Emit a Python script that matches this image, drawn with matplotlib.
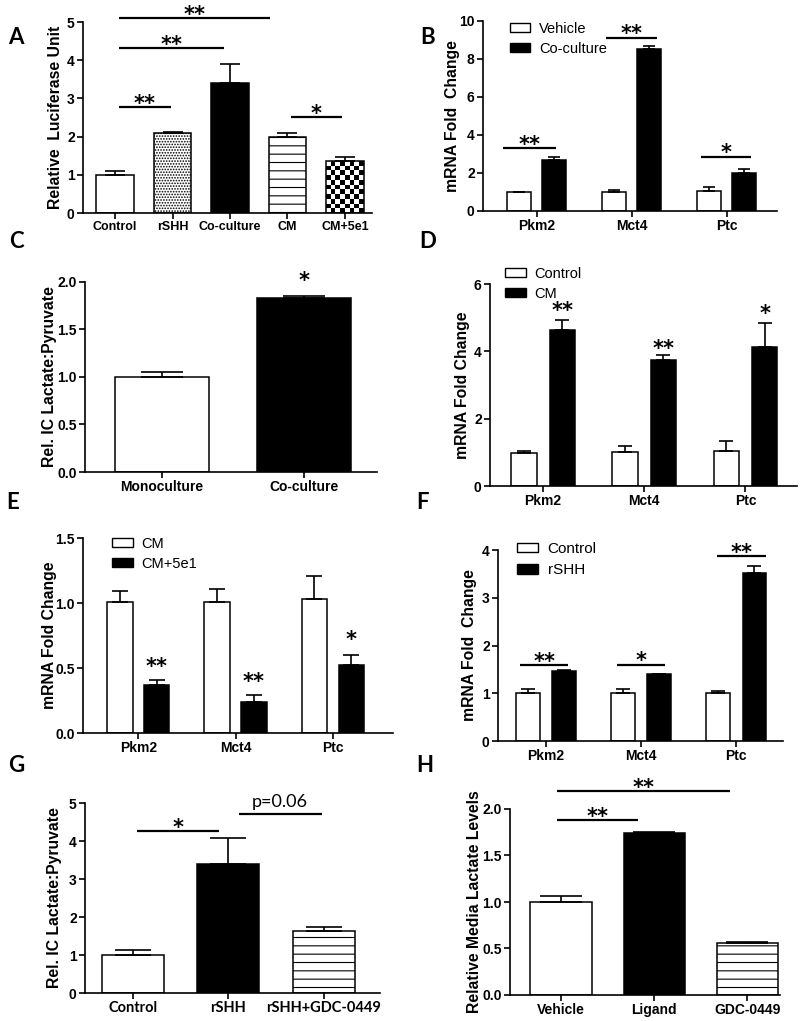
import numpy as np
import matplotlib as mpl
import matplotlib.pyplot as plt
from matplotlib.patches import Patch

mpl.rcParams.update(
    {
        "font.family": ["Liberation Sans", "DejaVu Sans"],
        "font.size": 10,
        "axes.linewidth": 1.2,
        "xtick.major.width": 1.2,
        "ytick.major.width": 1.2,
        "xtick.major.size": 4,
        "ytick.major.size": 4,
        "hatch.linewidth": 0.8,
    }
)

# ---- data ----
a_labels = ["Control", "rSHH", "Co-culture", "CM", "CM+5e1"]
a_means = [1.0, 2.1, 3.4, 2.0, 1.35]
a_err = [0.1, 0.02, 0.5, 0.1, 0.12]

genes = ["Pkm2", "Mct4", "Ptc"]

b_vehicle = [1.0, 1.0, 1.07]
b_vehicle_err = [0.0, 0.08, 0.18]
b_coculture = [2.7, 8.5, 2.02]
b_coculture_err = [0.14, 0.2, 0.2]

c_labels = ["Monoculture", "Co-culture"]
c_means = [1.0, 1.83]
c_err = [0.05, 0.02]

d_control = [0.99, 1.01, 1.05]
d_control_err = [0.06, 0.19, 0.30]
d_cm = [4.63, 3.75, 4.12]
d_cm_err = [0.30, 0.13, 0.72]

e_cm = [1.01, 1.01, 1.03]
e_cm_err = [0.08, 0.10, 0.18]
e_cm5e1 = [0.37, 0.24, 0.52]
e_cm5e1_err = [0.04, 0.055, 0.08]

f_control = [1.0, 1.0, 1.0]
f_control_err = [0.08, 0.09, 0.05]
f_rshh = [1.47, 1.40, 3.52]
f_rshh_err = [0.01, 0.01, 0.14]

g_labels = ["Control", "rSHH", "rSHH+GDC-0449"]
g_means = [1.0, 3.39, 1.63]
g_err = [0.12, 0.69, 0.12]

h_labels = ["Vehicle", "Ligand", "GDC-0449"]
h_means = [1.0, 1.74, 0.555]
h_err = [0.06, 0.01, 0.01]

# significance marks: (x start, x end, y, text)
a_sig = [(0.07, 0.97, 2.78, "**"), (0.07, 1.9, 4.32, "**"), (0.07, 2.7, 5.1, "**"), (3.06, 3.95, 2.5, "*")]
b_sig = [(-0.35, 0.2, 3.32, "**"), (0.73, 1.27, 9.12, "**"), (1.73, 2.26, 2.86, "*")]
f_sig = [(-0.27, 0.235, 1.59, "**"), (0.75, 1.25, 1.6, "*"), (1.80, 2.31, 3.87, "**")]
g_sig = [(0.04, 0.90, 4.26, "*"), (1.11, 1.98, 4.71, "")]
h_sig = [(-0.05, 0.83, 1.88, "**"), (-0.05, 1.81, 2.19, "**")]
c_star = [(1, 2.04, "*")]
d_star = [(0.19, 5.28, "**"), (1.19, 4.14, "**"), (2.19, 5.18, "*")]
e_star = [(0.19, 0.53, "**"), (1.19, 0.41, "**"), (2.19, 0.74, "*")]

W, H = 800, 1021
TICK_FONT = dict(fontsize=10, fontweight="bold")
LABEL_FONT = dict(fontsize=11.3, fontweight="bold")
STAR_FONT = dict(fontsize=15, fontweight="bold", family="DejaVu Sans")


def add_axes(fig, x0, x1, ytop, ybot):
    return fig.add_axes([x0 / W, 1 - ybot / H, (x1 - x0) / W, (ybot - ytop) / H])


def style(ax, xlim, ylim, yticks, fmt="{:g}", ylabel="", label_x=-0.1):
    ax.set_xlim(*xlim)
    ax.set_ylim(*ylim)
    ax.spines["top"].set_visible(False)
    ax.spines["right"].set_visible(False)
    ax.set_yticks(yticks)
    ax.set_yticklabels([fmt.format(t) for t in yticks], **TICK_FONT)
    ax.tick_params(direction="out", pad=2)
    ax.set_ylabel(ylabel, **LABEL_FONT)
    ax.yaxis.set_label_coords(label_x, 0.5)


def bars(ax, x, vals, errs, width, capsize, face="white", hatch=None):
    rects = ax.bar(x, vals, width, color=face, edgecolor="black", linewidth=1.1,
                   hatch=hatch, zorder=2)
    ax.errorbar(x, vals, yerr=[np.zeros(len(vals)), errs], fmt="none", ecolor="black",
                elinewidth=1.2, capsize=capsize, capthick=1.2, zorder=3)
    return rects


def checker(ax, rect, nx=8, ny=11):
    x0, w, h = rect.get_x(), rect.get_width(), rect.get_height()
    pattern = np.indices((ny, nx)).sum(axis=0) % 2
    im = ax.imshow(pattern, cmap="gray_r", extent=(x0, x0 + w, 0, h), aspect="auto",
                   interpolation="nearest", origin="lower", zorder=1.9)
    im.set_clip_path(rect)
    rect.set_facecolor("none")


def sig(ax, marks, dy=-2):
    for x0, x1, y, txt in marks:
        ax.plot([x0, x1], [y, y], color="black", lw=1.6, clip_on=False, solid_capstyle="butt")
        if txt:
            ax.annotate(txt, ((x0 + x1) / 2, y), xytext=(0, dy), textcoords="offset points",
                        ha="center", va="baseline", annotation_clip=False, **STAR_FONT)


def stars(ax, marks):
    for x, y, txt in marks:
        ax.annotate(txt, (x, y), xytext=(0, -6.3), textcoords="offset points",
                    ha="center", va="baseline", annotation_clip=False, **STAR_FONT)


def legend(ax, labels, anchor, size=10.5, spacing=0.4):
    handles = [Patch(facecolor="white", edgecolor="black", linewidth=1.0),
               Patch(facecolor="black", edgecolor="black", linewidth=1.0)]
    ax.legend(handles, labels, loc="upper left", bbox_to_anchor=anchor, frameon=False,
              borderaxespad=0, borderpad=0, handlelength=1.4, handleheight=0.6,
              handletextpad=0.6, labelspacing=spacing, prop=dict(size=size))


def grouped(ax, first, first_err, second, second_err, width, off, capsize):
    x = np.arange(len(genes))
    bars(ax, x - off, first, first_err, width, capsize, face="white")
    bars(ax, x + off, second, second_err, width, capsize, face="black")
    ax.set_xticks(x)
    ax.set_xticklabels(genes, **TICK_FONT)


fig = plt.figure(figsize=(W / 100, H / 100), dpi=100)

# A
ax = add_axes(fig, 83, 372, 22, 213)
x = np.arange(len(a_labels))
r = bars(ax, x, a_means, a_err, 0.66, 7)
r[1].set_hatch("......")
r[2].set_facecolor("black")
r[3].set_hatch("--")
checker(ax, r[4])
ax.set_xticks(x)
ax.set_xticklabels(a_labels, fontsize=9, fontweight="bold")
style(ax, (-0.557, 4.47), (0, 5), [0, 1, 2, 3, 4, 5], ylabel="Relative  Luciferase Unit", label_x=-0.069)
sig(ax, a_sig)

# B
ax = add_axes(fig, 483, 777, 21, 211)
grouped(ax, b_vehicle, b_vehicle_err, b_coculture, b_coculture_err, 0.25, 0.185, 4.5)
style(ax, (-0.565, 2.53), (0, 10), [0, 2, 4, 6, 8, 10], ylabel="mRNA Fold  Change", label_x=-0.078)
sig(ax, b_sig)
legend(ax, ["Vehicle", "Co-culture"], (0.092, 0.995))

# C
ax = add_axes(fig, 85, 377, 282, 472)
x = np.arange(len(c_labels))
r = bars(ax, x, c_means, c_err, 0.66, 15)
r[1].set_facecolor("black")
ax.set_xticks(x)
ax.set_xticklabels(c_labels, **TICK_FONT)
style(ax, (-0.54, 1.51), (0, 2), [0, 0.5, 1.0, 1.5, 2.0], fmt="{:.1f}",
      ylabel="Rel. IC Lactate:Pyruvate", label_x=-0.096)
stars(ax, c_star)

# D
ax = add_axes(fig, 490, 797, 284, 486)
grouped(ax, d_control, d_control_err, d_cm, d_cm_err, 0.25, 0.19, 5)
style(ax, (-0.525, 2.51), (0, 6), [0, 2, 4, 6], ylabel="mRNA Fold Change", label_x=-0.065)
stars(ax, d_star)
legend(ax, ["Control", "CM"], (0.05, 1.085))

# E
ax = add_axes(fig, 83, 393, 538, 733)
grouped(ax, e_cm, e_cm_err, e_cm5e1, e_cm5e1_err, 0.26, 0.19, 5.5)
style(ax, (-0.57, 2.62), (0, 1.5), [0, 0.5, 1.0, 1.5], fmt="{:.1f}",
      ylabel="mRNA Fold Change", label_x=-0.084)
stars(ax, e_star)
legend(ax, ["CM", "CM+5e1"], (0.094, 1.006))

# F
ax = add_axes(fig, 498, 783, 550, 741)
grouped(ax, f_control, f_control_err, f_rshh, f_rshh_err, 0.25, 0.19, 5)
style(ax, (-0.505, 2.49), (0, 4), [0, 1, 2, 3, 4], ylabel="mRNA Fold  Change", label_x=-0.074)
sig(ax, f_sig)
legend(ax, ["Control", "rSHH"], (0.067, 1.043), size=11, spacing=0.5)

# G
ax = add_axes(fig, 85, 380, 803, 993)
x = np.arange(len(g_labels))
r = bars(ax, x, g_means, g_err, 0.65, 13)
r[1].set_facecolor("black")
r[2].set_hatch("--")
ax.set_xticks(x)
ax.set_xticklabels(g_labels, fontsize=10.5, fontweight="bold", family="Lato")
style(ax, (-0.5, 2.59), (0, 5), [0, 1, 2, 3, 4, 5], ylabel="Rel. IC Lactate:Pyruvate", label_x=-0.078)
sig(ax, g_sig)
ax.annotate("p=0.06", ((g_sig[1][0] + g_sig[1][1]) / 2, g_sig[1][2]), xytext=(0, 3),
            textcoords="offset points", ha="center", va="bottom", fontsize=13,
            family="Lato", annotation_clip=False)

# H
ax = add_axes(fig, 510, 780, 809, 995)
x = np.arange(len(h_labels))
r = bars(ax, x, h_means, h_err, 0.66, 15)
r[1].set_facecolor("black")
r[2].set_hatch("--")
ax.set_xticks(x)
ax.set_xticklabels(h_labels, **TICK_FONT)
style(ax, (-0.55, 2.35), (0, 2), [0, 0.5, 1.0, 1.5, 2.0], fmt="{:.1f}",
      ylabel="Relative Media Lactate Levels", label_x=-0.104)
sig(ax, h_sig)

# panel letters
for letter, px, py in [("A", 16, 37), ("B", 428, 37), ("C", 16, 242), ("D", 428, 241),
                       ("E", 13, 502), ("F", 422, 502), ("G", 16, 765), ("H", 425, 765)]:
    fig.text(px / W, 1 - py / H, letter, ha="center", va="center", fontsize=16,
             fontweight="bold", family="Lato")

fig.savefig("out.png", dpi=100, facecolor="white")
